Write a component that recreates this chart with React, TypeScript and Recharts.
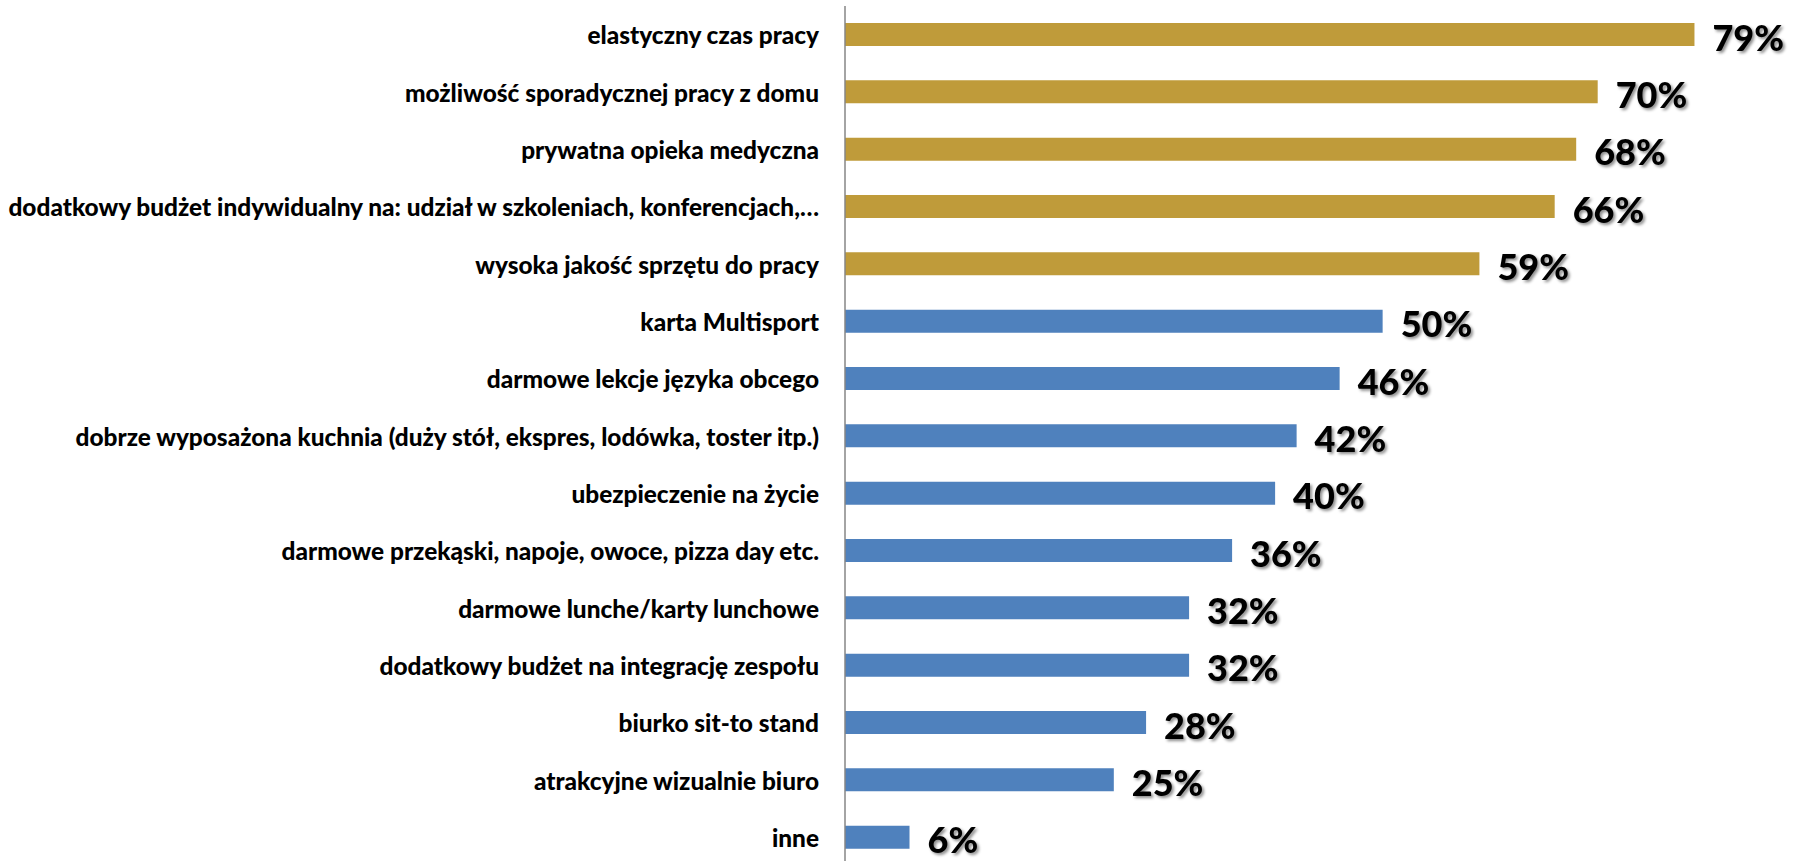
import React from "react";
import { BarChart, Bar, XAxis, YAxis, Cell, LabelList } from "recharts";

// benefit names, top to bottom
const categories = [
  "elastyczny czas pracy",
  "możliwość sporadycznej pracy z domu",
  "prywatna opieka medyczna",
  "dodatkowy budżet indywidualny na: udział w szkoleniach, konferencjach,…",
  "wysoka jakość sprzętu do pracy",
  "karta Multisport",
  "darmowe lekcje języka obcego",
  "dobrze wyposażona kuchnia (duży stół, ekspres, lodówka, toster itp.)",
  "ubezpieczenie na życie",
  "darmowe przekąski, napoje, owoce, pizza day etc.",
  "darmowe lunche/karty lunchowe",
  "dodatkowy budżet na integrację zespołu",
  "biurko sit-to stand",
  "atrakcyjne wizualnie biuro",
  "inne",
];

// share of answers, %
const values = [79, 70, 68, 66, 59, 50, 46, 42, 40, 36, 32, 32, 28, 25, 6];

// first N bars are highlighted in gold
const highlightCount = 5;

const GOLD = "#BF9B3A";
const BLUE = "#4F81BD";

const data = categories.map((name, i) => ({ name, value: values[i] }));

const CategoryTick = (props: any) => {
  const { x, y, payload } = props;
  return (
    <text
      x={x}
      y={y}
      textAnchor="end"
      dominantBaseline="central"
      fill="#000"
      fontSize={24.4}
      fontWeight={900}
      fontFamily="Lato"
    >
      {payload.value}
    </text>
  );
};

const ValueLabel = (props: any) => {
  const { x, y, width, height, value } = props;
  return (
    <text
      x={x + width + 18}
      y={y + height / 2 + 2}
      dominantBaseline="central"
      fill="#000"
      fontSize={36}
      fontWeight={900}
      fontFamily="Lato"
      filter="url(#labelShadow)"
    >
      {value}%
    </text>
  );
};

export default function App() {
  return (
    <div style={{ position: "absolute", left: 0, top: 0, background: "#fff" }}>
      <BarChart
        width={1802}
        height={866}
        data={data}
        layout="vertical"
        margin={{ top: 6, right: 0, left: 0, bottom: 0 }}
      >
        <defs>
          <filter id="labelShadow" x="-20%" y="-20%" width="140%" height="150%">
            <feDropShadow dx="2" dy="2" stdDeviation="1.5" floodColor="#000" floodOpacity="0.45" />
          </filter>
        </defs>
        <XAxis type="number" domain={[0, 89]} hide />
        <YAxis
          type="category"
          dataKey="name"
          width={845}
          tickLine={false}
          tickSize={0}
          tickMargin={26}
          axisLine={{ stroke: "#868686", strokeWidth: 1.5 }}
          tick={<CategoryTick />}
          interval={0}
        />
        <Bar dataKey="value" barSize={23} isAnimationActive={false}>
          {data.map((d, i) => (
            <Cell key={d.name} fill={i < highlightCount ? GOLD : BLUE} />
          ))}
          <LabelList dataKey="value" content={<ValueLabel />} />
        </Bar>
      </BarChart>
    </div>
  );
}
